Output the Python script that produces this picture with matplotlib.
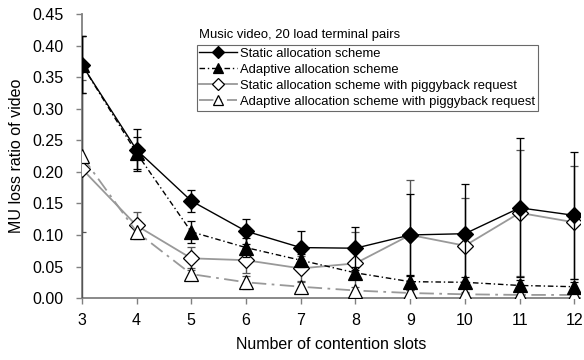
import numpy as np
from matplotlib import pyplot as plt

plt.rcParams['font.family'] = ['Liberation Sans', 'DejaVu Sans']

slots = [3, 4, 5, 6, 7, 8, 9, 10, 11, 12]

# 静态分配
static = [0.370, 0.235, 0.154, 0.106, 0.080, 0.079, 0.100, 0.102, 0.143, 0.131]
static_err = [0.045, 0.033, 0.018, 0.020, 0.026, 0.034, 0.065, 0.078, 0.110, 0.100]
# 自适应分配
adaptive = [0.370, 0.230, 0.105, 0.080, 0.060, 0.040, 0.026, 0.025, 0.020, 0.018]
adaptive_err = [0.045, 0.025, 0.017, 0.015, 0.010, 0.010, 0.010, 0.008, 0.008, 0.008]
# 静态分配 + piggyback
static_pb = [0.205, 0.115, 0.063, 0.060, 0.047, 0.055, 0.100, 0.083, 0.135, 0.120]
static_pb_err = [0.210, 0.022, 0.018, 0.020, 0.020, 0.050, 0.087, 0.075, 0.100, 0.090]
# 自适应分配 + piggyback
adaptive_pb = [0.225, 0.105, 0.038, 0.025, 0.018, 0.012, 0.008, 0.006, 0.005, 0.005]
adaptive_pb_err = [0.120, 0.010, 0.010, 0.010, 0.008, 0.006, 0.005, 0.004, 0.004, 0.004]

labels = ["Static allocation scheme",
          "Adaptive allocation scheme",
          "Static allocation scheme with piggyback request",
          "Adaptive allocation scheme with piggyback request"]

gray = "#999999"

fig = plt.figure(figsize=(5.84, 3.6), dpi=100)
ax = fig.add_axes([0.140, 0.172, 0.853, 0.789])

eb = dict(capsize=3, elinewidth=1, capthick=1, markeredgewidth=0.9)
ax.errorbar(slots, static_pb, yerr=static_pb_err, color=gray, ecolor="#555555", ls="-", lw=1.3,
            marker="D", markersize=8, mfc="white", mec="black", label=labels[2],
            zorder=3, **eb)
ax.errorbar(slots, adaptive_pb, yerr=adaptive_pb_err, color=gray, ecolor="#555555", lw=1.3,
            ls=(0, (8, 3, 1.5, 3)), marker="^", markersize=10, mfc="white", mec="black",
            label=labels[3], zorder=3, **eb)
ax.errorbar(slots, static, yerr=static_err, color="black", ecolor="black", ls="-", lw=1,
            marker="D", markersize=8, mfc="black", mec="black", label=labels[0],
            zorder=4, **eb)
ax.errorbar(slots, adaptive, yerr=adaptive_err, color="black", ecolor="black", lw=1,
            ls=(0, (4, 2, 1, 2)), marker="^", markersize=10, mfc="black", mec="black",
            label=labels[1], zorder=4, **eb)

ax.set_xlim(3, 12.1)
ax.set_ylim(0, 0.45)
ax.set_xticks(slots)
ax.set_yticks(np.arange(0, 0.46, 0.05))
ax.set_yticklabels([f"{v:.2f}" for v in np.arange(0, 0.46, 0.05)])
ax.tick_params(labelsize=11.5, length=4, color="#808080", width=1)
ax.tick_params(axis="y", pad=9)
ax.tick_params(axis="x", pad=7)
for s in ["top", "right"]:
    ax.spines[s].set_visible(False)
for s in ["left", "bottom"]:
    ax.spines[s].set_color("#808080")
    ax.spines[s].set_linewidth(1.3)

ax.set_xlabel("Number of contention slots", fontsize=11.5, labelpad=6)
ax.set_ylabel("MU loss ratio of video", fontsize=11.5, labelpad=6)

# 图例只显示线和标记，不显示误差棒
h, l = ax.get_legend_handles_labels()
order = [2, 3, 0, 1]
leg = ax.legend([h[i][0] for i in order], [l[i] for i in order], loc="upper left",
                bbox_to_anchor=(0.231, 0.891), fontsize=9.4, frameon=True, fancybox=False,
                edgecolor="#444444", handlelength=2.9, handletextpad=0.2, markerscale=0.75,
                borderpad=0.2, labelspacing=0.3, borderaxespad=0)
leg.get_frame().set_linewidth(0.8)
ax.text(0.235, 0.905, "Music video, 20 load terminal pairs", transform=ax.transAxes,
        fontsize=9.4, va="bottom", ha="left")

plt.savefig("out.png")
